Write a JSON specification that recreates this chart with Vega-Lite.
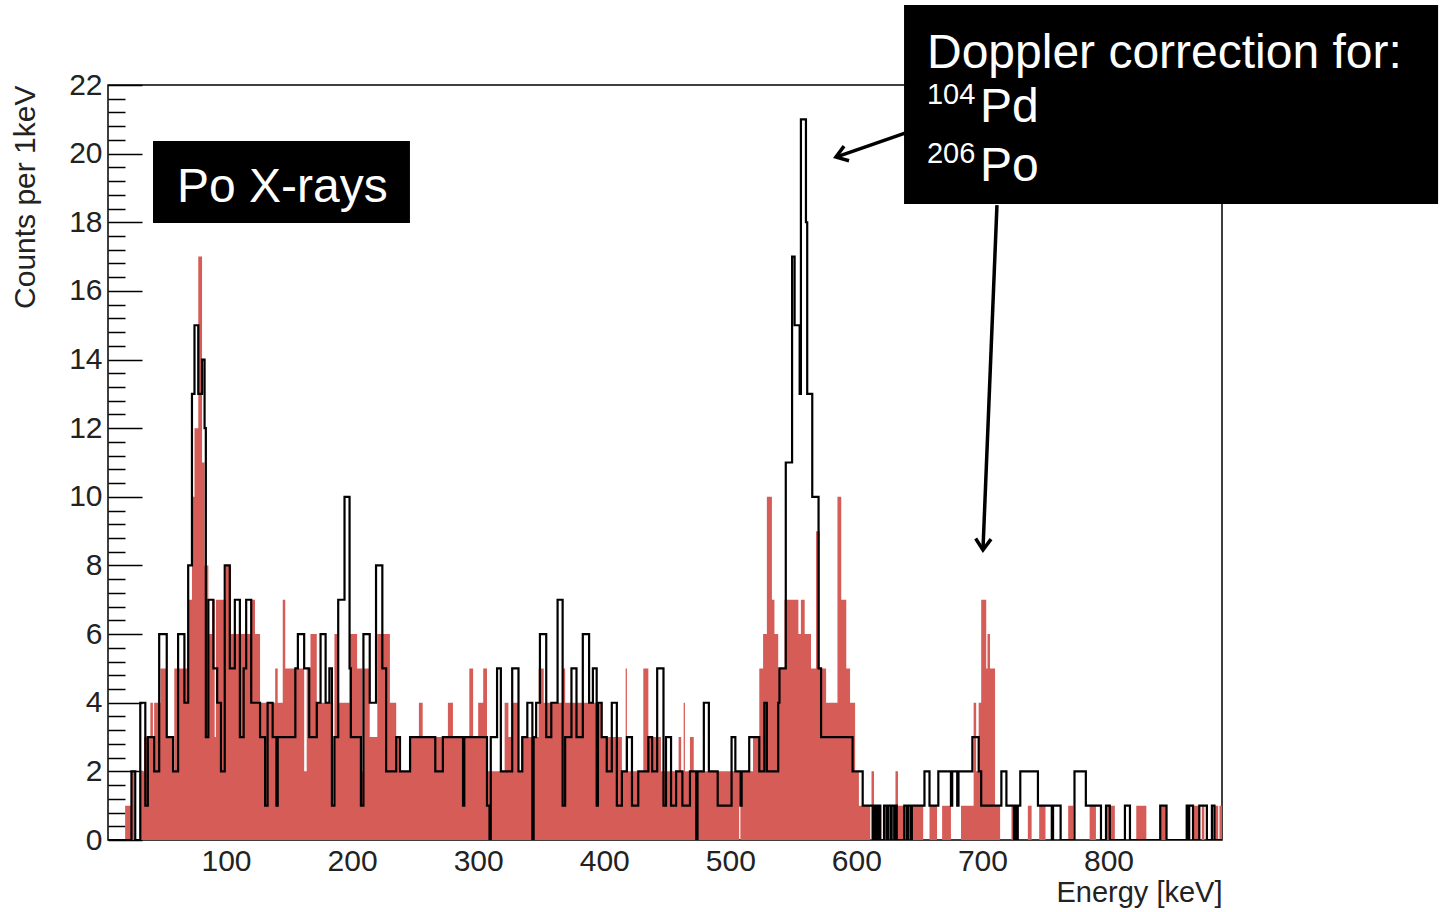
{
"$schema": "https://vega.github.io/schema/vega-lite/v6.json",
"width": 1114, "height": 755,
"autosize": {"type": "none"},
"padding": {"left": 108, "top": 85, "right": 221, "bottom": 72},
"background": "white",
"config": {"view": {"stroke": "black", "strokeWidth": 1.5}, "font": "Liberation Sans"},
"datasets": {
"red": [
{"e":6,"c":0},{"e":20,"c":1},{"e":25,"c":2},{"e":27,"c":0},{"e":32,"c":2},{"e":35,"c":3},{"e":40,"c":4},{"e":42,"c":3},{"e":43,"c":4},{"e":48,"c":5},{"e":53,"c":3},{"e":58,"c":2},{"e":59,"c":5},{"e":70,"c":7},{"e":73,"c":10},{"e":75,"c":12},{"e":78,"c":17},{"e":81,"c":11},{"e":83,"c":8},{"e":86,"c":6},{"e":89,"c":7},{"e":91,"c":3},{"e":92,"c":7},{"e":100,"c":8},{"e":104,"c":6},{"e":120,"c":7},{"e":123,"c":6},{"e":127,"c":4},{"e":139,"c":5},{"e":141,"c":4},{"e":145,"c":7},{"e":147,"c":5},{"e":162,"c":2},{"e":164,"c":5},{"e":167,"c":6},{"e":172,"c":4},{"e":185,"c":1},{"e":186,"c":6},{"e":189,"c":4},{"e":198,"c":6},{"e":204,"c":5},{"e":208,"c":2},{"e":209,"c":5},{"e":214,"c":3},{"e":220,"c":6},{"e":230,"c":4},{"e":235,"c":3},{"e":238,"c":2},{"e":246,"c":3},{"e":253,"c":4},{"e":256,"c":3},{"e":276,"c":4},{"e":280,"c":3},{"e":293,"c":5},{"e":296,"c":3},{"e":300,"c":4},{"e":304,"c":5},{"e":307,"c":2},{"e":321,"c":4},{"e":324,"c":3},{"e":327,"c":4},{"e":332,"c":2},{"e":334,"c":3},{"e":348,"c":5},{"e":352,"c":4},{"e":367,"c":5},{"e":369,"c":4},{"e":398,"c":3},{"e":414,"c":2},{"e":417,"c":5},{"e":418,"c":2},{"e":431,"c":5},{"e":435,"c":3},{"e":445,"c":2},{"e":459,"c":3},{"e":461,"c":2},{"e":463,"c":4},{"e":464,"c":2},{"e":468,"c":3},{"e":471,"c":2},{"e":507,"c":0},{"e":508,"c":2},{"e":518,"c":3},{"e":523,"c":5},{"e":526,"c":6},{"e":529,"c":10},{"e":533,"c":7},{"e":535,"c":6},{"e":538,"c":5},{"e":543,"c":7},{"e":554,"c":6},{"e":556,"c":7},{"e":559,"c":6},{"e":564,"c":5},{"e":568,"c":9},{"e":571,"c":5},{"e":576,"c":4},{"e":585,"c":10},{"e":588,"c":7},{"e":592,"c":5},{"e":595,"c":4},{"e":599,"c":2},{"e":602,"c":1},{"e":611,"c":0},{"e":612,"c":2},{"e":614,"c":0},{"e":621,"c":1},{"e":623,"c":0},{"e":631,"c":2},{"e":633,"c":1},{"e":638,"c":0},{"e":644,"c":1},{"e":653,"c":0},{"e":658,"c":1},{"e":664,"c":0},{"e":668,"c":1},{"e":675,"c":0},{"e":683,"c":1},{"e":693,"c":4},{"e":695,"c":2},{"e":697,"c":4},{"e":699,"c":7},{"e":703,"c":5},{"e":704,"c":6},{"e":706,"c":5},{"e":710,"c":1},{"e":714,"c":0},{"e":723,"c":1},{"e":726,"c":0},{"e":736,"c":1},{"e":739,"c":0},{"e":745,"c":1},{"e":750,"c":0},{"e":768,"c":1},{"e":772,"c":0},{"e":785,"c":1},{"e":790,"c":0},{"e":798,"c":1},{"e":805,"c":0},{"e":822,"c":1},{"e":830,"c":0},{"e":841,"c":1},{"e":846,"c":0},{"e":867,"c":1},{"e":872,"c":0},{"e":874,"c":1},{"e":876,"c":0},{"e":884,"c":1},{"e":887,"c":0},{"e":888,"c":1},{"e":890,"c":1}
],
"black": [
{"e":6,"c":0},{"e":25,"c":2},{"e":28,"c":0},{"e":32,"c":4},{"e":36,"c":1},{"e":38,"c":3},{"e":43,"c":2},{"e":47,"c":6},{"e":53,"c":3},{"e":58,"c":2},{"e":62,"c":6},{"e":67,"c":4},{"e":70,"c":8},{"e":73,"c":13},{"e":75,"c":15},{"e":78,"c":13},{"e":81,"c":14},{"e":83,"c":12},{"e":84,"c":3},{"e":86,"c":7},{"e":90,"c":5},{"e":93,"c":4},{"e":96,"c":2},{"e":99,"c":8},{"e":103,"c":5},{"e":107,"c":7},{"e":111,"c":3},{"e":114,"c":5},{"e":116,"c":7},{"e":120,"c":4},{"e":127,"c":3},{"e":131,"c":1},{"e":133,"c":4},{"e":137,"c":3},{"e":140,"c":1},{"e":141,"c":3},{"e":155,"c":5},{"e":157,"c":6},{"e":162,"c":5},{"e":166,"c":3},{"e":172,"c":4},{"e":175,"c":6},{"e":179,"c":4},{"e":182,"c":5},{"e":184,"c":1},{"e":186,"c":3},{"e":189,"c":7},{"e":194,"c":10},{"e":198,"c":5},{"e":199,"c":3},{"e":207,"c":1},{"e":209,"c":6},{"e":214,"c":4},{"e":219,"c":8},{"e":224,"c":5},{"e":227,"c":2},{"e":235,"c":3},{"e":238,"c":2},{"e":246,"c":3},{"e":266,"c":2},{"e":272,"c":3},{"e":288,"c":1},{"e":289,"c":3},{"e":307,"c":1},{"e":309,"c":0},{"e":310,"c":3},{"e":315,"c":5},{"e":318,"c":2},{"e":327,"c":5},{"e":332,"c":2},{"e":335,"c":3},{"e":339,"c":4},{"e":343,"c":0},{"e":344,"c":3},{"e":346,"c":4},{"e":349,"c":6},{"e":354,"c":3},{"e":358,"c":4},{"e":363,"c":7},{"e":367,"c":1},{"e":369,"c":3},{"e":374,"c":5},{"e":378,"c":3},{"e":383,"c":6},{"e":388,"c":4},{"e":391,"c":5},{"e":394,"c":1},{"e":395,"c":4},{"e":398,"c":3},{"e":402,"c":2},{"e":406,"c":4},{"e":410,"c":1},{"e":414,"c":2},{"e":418,"c":3},{"e":422,"c":1},{"e":427,"c":2},{"e":435,"c":3},{"e":438,"c":2},{"e":442,"c":5},{"e":447,"c":1},{"e":449,"c":3},{"e":453,"c":1},{"e":457,"c":2},{"e":462,"c":1},{"e":468,"c":2},{"e":473,"c":0},{"e":474,"c":2},{"e":479,"c":4},{"e":483,"c":2},{"e":490,"c":1},{"e":501,"c":3},{"e":504,"c":2},{"e":508,"c":1},{"e":509,"c":2},{"e":515,"c":3},{"e":523,"c":2},{"e":527,"c":4},{"e":529,"c":2},{"e":538,"c":4},{"e":539,"c":5},{"e":544,"c":11},{"e":549,"c":17},{"e":551,"c":15},{"e":555,"c":13},{"e":556,"c":21},{"e":560,"c":18},{"e":561,"c":13},{"e":565,"c":10},{"e":570,"c":5},{"e":572,"c":3},{"e":597,"c":2},{"e":605,"c":1},{"e":613,"c":0},{"e":614,"c":1},{"e":615,"c":0},{"e":616,"c":1},{"e":617,"c":0},{"e":618,"c":1},{"e":619,"c":0},{"e":622,"c":1},{"e":624,"c":0},{"e":625,"c":1},{"e":627,"c":0},{"e":628,"c":1},{"e":630,"c":0},{"e":631,"c":1},{"e":632,"c":0},{"e":638,"c":1},{"e":640,"c":0},{"e":641,"c":1},{"e":643,"c":0},{"e":644,"c":1},{"e":654,"c":2},{"e":658,"c":1},{"e":665,"c":2},{"e":675,"c":1},{"e":676,"c":2},{"e":680,"c":1},{"e":681,"c":2},{"e":692,"c":3},{"e":697,"c":2},{"e":699,"c":1},{"e":715,"c":2},{"e":719,"c":1},{"e":725,"c":0},{"e":726,"c":1},{"e":727,"c":0},{"e":728,"c":1},{"e":730,"c":2},{"e":744,"c":1},{"e":755,"c":0},{"e":756,"c":1},{"e":762,"c":0},{"e":773,"c":2},{"e":782,"c":1},{"e":794,"c":0},{"e":798,"c":1},{"e":801,"c":0},{"e":813,"c":1},{"e":817,"c":0},{"e":841,"c":1},{"e":846,"c":0},{"e":862,"c":1},{"e":863,"c":0},{"e":864,"c":1},{"e":867,"c":0},{"e":872,"c":1},{"e":878,"c":0},{"e":882,"c":1},{"e":884,"c":0},{"e":890,"c":0}
],
"boxes": [
{"x":42.1,"x2":245.9,"y":17.98,"y2":20.37},
{"x":637.8,"x2":1061.4,"y":18.53,"y2":24.33}
],
"bigtext": [
{"x":61.1,"y":18.59,"t":"Po X-rays"},
{"x":656.0,"y":22.5,"t":"Doppler correction for:"},
{"x":698.0,"y":20.92,"t":"Pd"},
{"x":698.0,"y":19.2,"t":"Po"}
],
"suptext": [
{"x":656.0,"y":21.45,"t":"104"},
{"x":656.0,"y":19.73,"t":"206"}
],
"arrows": [
{"x":638.6,"y":20.6,"x2":583.8,"y2":19.9},
{"x":711.5,"y":18.5,"x2":700.4,"y2":8.45}
]
},
"resolve": {"axis": {"y": "independent"}},
"layer": [
{
"data": {"name": "red"},
"mark": {"type": "area", "interpolate": "step-after", "color": "#d65c58", "clip": true},
"encoding": {
"x": {"field": "e", "type": "quantitative",
"scale": {"domain": [6.4, 890], "nice": false, "zero": false},
"axis": {"title": "Energy [keV]", "values": [100,200,300,400,500,600,700,800], "ticks": false, "domain": false, "grid": false,
"labelFontSize": 30, "labelColor": "#222", "labelPadding": 6,
"titleFontSize": 29, "titleFontWeight": "normal", "titleColor": "#222",
"titleAnchor": "end", "titleAlign": "right", "titleX": 1114, "titleY": 61, "titleBaseline": "alphabetic"}},
"y": {"field": "c", "type": "quantitative",
"scale": {"domain": [0, 22], "nice": false},
"axis": {"title": "Counts per 1keV", "values": [0,2,4,6,8,10,12,14,16,18,20,22], "tickSize": -34, "tickWidth": 1.5, "tickColor": "black",
"domain": false, "grid": false, "labelFontSize": 30, "labelColor": "#222", "labelPadding": 40,
"titleFontSize": 30, "titleFontWeight": "normal", "titleColor": "#222",
"titleAngle": -90, "titleAlign": "right", "titleBaseline": "alphabetic", "titleX": -74, "titleY": 0}}
}
},
{
"data": {"name": "black"},
"mark": {"type": "line", "interpolate": "step-after", "color": "black", "strokeWidth": 2.2, "clip": true},
"encoding": {
"x": {"field": "e", "type": "quantitative"},
"y": {"field": "c", "type": "quantitative",
"axis": {"orient": "left", "title": null, "labels": false, "domain": false, "grid": false,
"values": [0.4,0.8,1.2,1.6,2.4,2.8,3.2,3.6,4.4,4.8,5.2,5.6,6.4,6.8,7.2,7.6,8.4,8.8,9.2,9.6,10.4,10.8,11.2,11.6,12.4,12.8,13.2,13.6,14.4,14.8,15.2,15.6,16.4,16.8,17.2,17.6,18.4,18.8,19.2,19.6,20.4,20.8,21.2,21.6],
"tickSize": -17, "tickWidth": 1.5, "tickColor": "black"}}
}
},
{
"data": {"name": "boxes"},
"mark": {"type": "rect", "color": "black"},
"encoding": {
"x": {"field": "x", "type": "quantitative"},
"x2": {"field": "x2"},
"y": {"field": "y", "type": "quantitative", "axis": null},
"y2": {"field": "y2"}
}
},
{
"data": {"name": "arrows"},
"mark": {"type": "rule", "color": "black", "strokeWidth": 3.5},
"encoding": {
"x": {"field": "x", "type": "quantitative"},
"x2": {"field": "x2"},
"y": {"field": "y", "type": "quantitative", "axis": null},
"y2": {"field": "y2"}
}
},
{
"data": {"values": [{"x": 583.8, "y": 19.9}]},
"mark": {"type": "point", "shape": "M -1.6 -1.1 L 0 0 L -1.6 1.1", "filled": false, "stroke": "black", "strokeWidth": 3.5, "size": 196, "angle": 161, "opacity": 1},
"encoding": {
"x": {"field": "x", "type": "quantitative"},
"y": {"field": "y", "type": "quantitative", "axis": null}
}
},
{
"data": {"values": [{"x": 700.4, "y": 8.45}]},
"mark": {"type": "point", "shape": "M -1.6 -1.1 L 0 0 L -1.6 1.1", "filled": false, "stroke": "black", "strokeWidth": 3.5, "size": 196, "angle": 92, "opacity": 1},
"encoding": {
"x": {"field": "x", "type": "quantitative"},
"y": {"field": "y", "type": "quantitative", "axis": null}
}
},
{
"data": {"name": "bigtext"},
"mark": {"type": "text", "color": "white", "fontSize": 48, "align": "left", "baseline": "alphabetic", "font": "Liberation Sans"},
"encoding": {
"x": {"field": "x", "type": "quantitative"},
"y": {"field": "y", "type": "quantitative", "axis": null},
"text": {"field": "t"}
}
},
{
"data": {"name": "suptext"},
"mark": {"type": "text", "color": "white", "fontSize": 29, "align": "left", "baseline": "alphabetic", "font": "Liberation Sans"},
"encoding": {
"x": {"field": "x", "type": "quantitative"},
"y": {"field": "y", "type": "quantitative", "axis": null},
"text": {"field": "t"}
}
}
]
}
